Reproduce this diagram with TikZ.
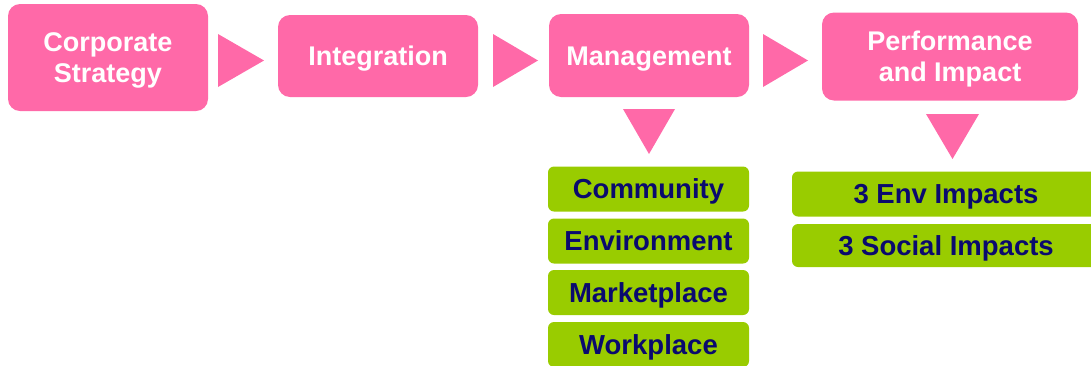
\documentclass[tikz,border=0pt]{standalone}
\usepackage{fontspec}
\setmainfont{Liberation Sans}
\definecolor{stagepink}{HTML}{FF69A8}
\definecolor{itemgreen}{HTML}{99CC00}
\definecolor{itemnavy}{HTML}{0A0A6E}
% one line of a stage label, cut to its cap height
\newcommand{\stageline}[1]{\raisebox{0pt}[19.4pt][0pt]{#1}}

\begin{document}
\begin{tikzpicture}[x=1pt,y=-1pt]
  \tikzset{stage/.style = {fill=stagepink,text=white,rounded corners=12pt,minimum width=200pt,inner sep=0pt,align=center,font=\bfseries\fontsize{27}{31.5}\selectfont}}
  \tikzset{oneline/.style = {text height=19.4pt,text depth=0pt}}
  \tikzset{item/.style = {fill=itemgreen,text=itemnavy,rounded corners=6pt,minimum height=45pt,inner sep=0pt,text height=19.7pt,text depth=0pt,font=\bfseries\fontsize{27.5}{31}\selectfont}}
  \tikzset{pointer/.style = {fill=stagepink}}

  \useasboundingbox (0,0) rectangle (1091,365);
  \clip (0,0) rectangle (1091,365);

\node[stage,minimum height=107pt] (cs)   at (108,57.5) {\stageline{Corporate}\\\stageline{Strategy}};
\node[stage,oneline,minimum height=82pt]  (int)  at (378,56)   {Integration};
\node[stage,oneline,minimum height=83pt]  (mgmt) at (649,55.5) {Management};
\node[stage,minimum height=88pt,minimum width=256pt] (perf) at (950,56.5) {\stageline{Performance}\\\stageline{and Impact}};

%% arrows between the stages
  \fill[pointer] (218,34) -- (264,60.5) -- (218,87) -- cycle;
  \fill[pointer] (493,34) -- (538,60.5) -- (493,87) -- cycle;
  \fill[pointer] (763,34) -- (808,60.5) -- (763,87) -- cycle;

%% arrows down to the lists
  \fill[pointer] (623,109) -- (675,109) -- (649,154) -- cycle;
  \fill[pointer] (926,114) -- (979,114) -- (952.5,159) -- cycle;

\node[item,minimum width=201pt] (com) at (648.5,189)   {Community};
\node[item,minimum width=201pt] (env) at (648.5,241)   {Environment};
\node[item,minimum width=201pt] (mkt) at (648.5,292.5) {Marketplace};
\node[item,minimum width=201pt] (wrk) at (648.5,344.5) {Workplace};

\node[item,minimum width=308pt] (envimp) at (946,194)   {3 Env Impacts};
\node[item,minimum width=308pt,minimum height=43pt] (socimp) at (946,245.5) {3 Social Impacts};

\end{tikzpicture}
\end{document}
